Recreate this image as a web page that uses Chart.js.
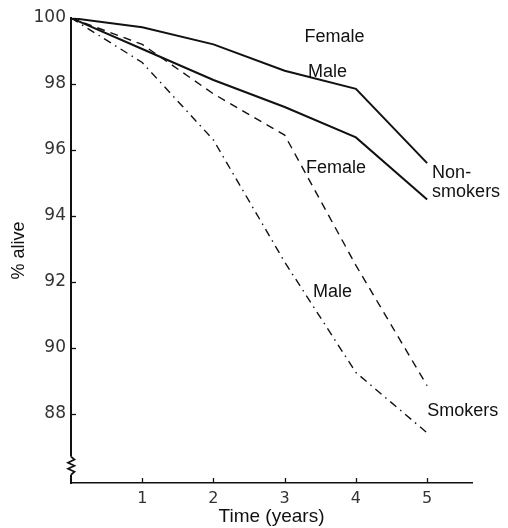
<!DOCTYPE html>
<html>
<head>
<meta charset="utf-8">
<script src="https://cdn.jsdelivr.net/npm/chart.js@4.4.1/dist/chart.umd.min.js"></script>
<style>
  html, body { margin: 0; padding: 0; background: #fff; }
  canvas { display: block; }
</style>
</head>
<body>
<canvas id="survChart" width="508" height="528"></canvas>
<script>
// years of follow-up
var years = [0, 1, 2, 3, 4, 5];
// % alive
var femaleNonSmokers = [100, 99.72, 99.2, 98.4, 97.85, 95.6];
var maleNonSmokers = [100, 99.06, 98.12, 97.3, 96.38, 94.5];
var femaleSmokers = [100, 99.2, 97.7, 96.45, 92.5, 88.85];
var maleSmokers = [100, 98.65, 96.3, 92.6, 89.25, 87.42];

var xTicks = [1, 2, 3, 4, 5];
var yTicks = [88, 90, 92, 94, 96, 98, 100];

var FONT = '"Liberation Sans", Arial, sans-serif';
var TICK_FONT = '"DejaVu Sans", sans-serif';

function toPoints(vals) {
    return vals.map(function (v, i) {
        return { x: years[i], y: v };
    });
}

// text labels placed in data units
var labels = [
    { text: 'Female', x: 3.7, y: 99.42, align: 'center' },
    { text: 'Male', x: 3.6, y: 98.36, align: 'center' },
    { text: 'Female', x: 3.72, y: 95.45, align: 'center' },
    { text: 'Male', x: 3.67, y: 91.7, align: 'center' },
    { text: 'Non-', x: 5.07, y: 95.3, align: 'left' },
    { text: 'smokers', x: 5.07, y: 94.73, align: 'left' },
    { text: 'Smokers', x: 5.0, y: 88.09, align: 'left' }
];

var decorPlugin = {
    id: 'decor',
    afterDraw: function (chart) {
        var ctx = chart.ctx;
        var xs = chart.scales.x;
        var ys = chart.scales.y;
        var area = chart.chartArea;
        ctx.save();

        // inside tick marks
        ctx.strokeStyle = '#111';
        ctx.lineWidth = 1.3;
        yTicks.forEach(function (v) {
            var py = Math.round(ys.getPixelForValue(v)) + 0.5;
            ctx.beginPath();
            ctx.moveTo(area.left, py);
            ctx.lineTo(area.left + 5, py);
            ctx.stroke();
        });
        xTicks.forEach(function (v) {
            var px = Math.round(xs.getPixelForValue(v)) + 0.5;
            ctx.beginPath();
            ctx.moveTo(px, area.bottom);
            ctx.lineTo(px, area.bottom - 5);
            ctx.stroke();
        });

        // axis break zigzag
        var top = ys.getPixelForValue(86.7);
        var bot = ys.getPixelForValue(86.15);
        ctx.fillStyle = '#fff';
        ctx.fillRect(area.left - 4, top, 8, bot - top);
        ctx.strokeStyle = '#111';
        ctx.lineWidth = 1.7;
        ctx.beginPath();
        ctx.moveTo(area.left, top);
        var n = 6;
        for (var i = 1; i < n; i++) {
            var yy = top + (bot - top) * i / n;
            ctx.lineTo(area.left + (i % 2 ? 3.5 : -3), yy);
        }
        ctx.lineTo(area.left, bot);
        ctx.stroke();

        // labels
        ctx.fillStyle = '#111';
        ctx.font = '18px ' + FONT;
        ctx.textBaseline = 'middle';
        labels.forEach(function (l) {
            ctx.textAlign = l.align;
            ctx.fillText(l.text, xs.getPixelForValue(l.x), ys.getPixelForValue(l.y));
        });
        ctx.restore();
    }
};

var ctx = document.getElementById('survChart').getContext('2d');
var chart = new Chart(ctx, {
    type: 'line',
    data: {
        datasets: [{
            label: 'Female non-smokers',
            data: toPoints(femaleNonSmokers),
            borderColor: '#111',
            borderWidth: 2
        }, {
            label: 'Male non-smokers',
            data: toPoints(maleNonSmokers),
            borderColor: '#111',
            borderWidth: 2
        }, {
            label: 'Female smokers',
            data: toPoints(femaleSmokers),
            borderColor: '#111',
            borderWidth: 1.4,
            borderDash: [8, 6]
        }, {
            label: 'Male smokers',
            data: toPoints(maleSmokers),
            borderColor: '#111',
            borderWidth: 1.4,
            borderDash: [8, 5, 1.5, 5]
        }]
    },
    options: {
        responsive: false,
        animation: false,
        devicePixelRatio: 1,
        layout: { padding: { top: 18, right: 36, left: 0, bottom: 0 } },
        elements: {
            point: { radius: 0 },
            line: { tension: 0, fill: false }
        },
        plugins: {
            legend: { display: false },
            tooltip: { enabled: false }
        },
        scales: {
            x: {
                type: 'linear',
                min: 0,
                max: 5.63,
                grid: { display: false, drawTicks: false },
                border: { color: '#111', width: 1.5 },
                afterBuildTicks: function (s) {
                    s.ticks = xTicks.map(function (v) { return { value: v }; });
                },
                afterFit: function (s) { s.height = 45; },
                ticks: {
                    color: '#333',
                    padding: 6,
                    maxRotation: 0,
                    font: { family: TICK_FONT, size: 16 }
                },
                title: {
                    display: true,
                    text: 'Time (years)',
                    color: '#111',
                    padding: { top: 2, bottom: 0 },
                    font: { family: FONT, size: 19 }
                }
            },
            y: {
                min: 85.9,
                max: 100,
                grid: { display: false, drawTicks: false },
                border: { color: '#111', width: 2 },
                afterBuildTicks: function (s) {
                    s.ticks = yTicks.map(function (v) { return { value: v }; });
                },
                afterFit: function (s) { s.width = 71; },
                ticks: {
                    color: '#333',
                    padding: 5,
                    font: { family: TICK_FONT, size: 17 }
                },
                title: {
                    display: true,
                    text: '% alive',
                    color: '#111',
                    padding: { top: 8, bottom: 0 },
                    font: { family: FONT, size: 18 }
                }
            }
        }
    },
    plugins: [decorPlugin]
});
</script>
</body>
</html>
